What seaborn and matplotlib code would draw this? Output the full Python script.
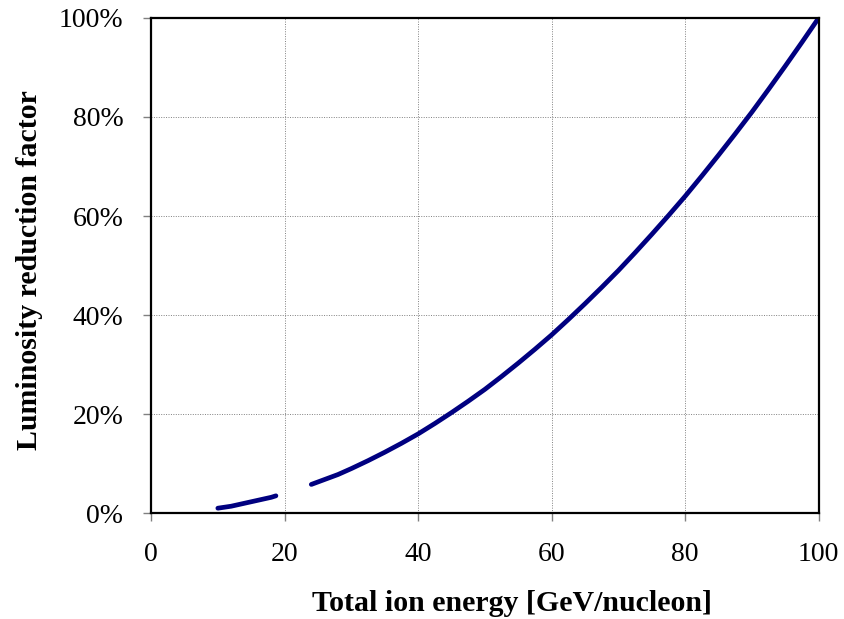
"""
Luminosity reduction factor vs total ion energy
"""

import pandas as pd
import matplotlib
matplotlib.use("Agg")
import matplotlib.pyplot as plt
from matplotlib.ticker import PercentFormatter
import seaborn as sns

# ── Data ──────────────────────────────────────────────────────────────────────

low_energy = [10, 11, 12, 13, 14, 15, 16, 17, 18, 18.7]
low_factor = [1.0, 1.2, 1.4, 1.7, 2.0, 2.3, 2.6, 2.9, 3.2, 3.5]

high_energy = [24, 26, 28, 30, 32.5, 35, 37.5, 40, 42.5, 45, 47.5, 50,
               52.5, 55, 57.5, 60, 62.5, 65, 67.5, 70, 72.5, 75, 77.5, 80,
               82.5, 85, 87.5, 90, 92.5, 95, 97.5, 100]
high_factor = [5.8, 6.8, 7.8, 9.0, 10.6, 12.3, 14.1, 16.0, 18.1, 20.3,
               22.6, 25.0, 27.6, 30.3, 33.1, 36.0, 39.1, 42.3, 45.6, 49.0,
               52.6, 56.3, 60.1, 64.0, 68.1, 72.3, 76.6, 81.0, 85.6, 90.3,
               95.1, 100.0]

x_ticks = [0, 20, 40, 60, 80, 100]
y_ticks = [0, 20, 40, 60, 80, 100]

# ── Plot ───────────────────────────────────────────────────────────────────────

sns.set_style("white")
plt.rcParams["font.family"] = ["Liberation Serif", "DejaVu Serif"]

df = pd.concat([
    pd.DataFrame({"energy": low_energy, "factor": low_factor, "seg": 0}),
    pd.DataFrame({"energy": high_energy, "factor": high_factor, "seg": 1}),
])

fig = plt.figure(figsize=(8.44, 6.19), dpi=100)
ax = fig.add_axes([0.179, 0.171, 0.791, 0.800])

sns.lineplot(data=df, x="energy", y="factor", units="seg", estimator=None,
             color="#000080", linewidth=3.4, ax=ax, solid_capstyle="round")

ax.set_xlim(0, 100)
ax.set_ylim(0, 100)
ax.set_xticks(x_ticks)
ax.set_yticks(y_ticks)
ax.yaxis.set_major_formatter(PercentFormatter(decimals=0))

ax.grid(True, color="#808080", linestyle=(0, (1, 1.5)), linewidth=0.7)
for s in ax.spines.values():
    s.set_color("black")
    s.set_linewidth(1.6)

ax.tick_params(axis="both", labelsize=20, labelcolor="black", direction="out",
               length=6, width=1, color="#808080", bottom=True, left=True)
ax.tick_params(axis="x", pad=15)
ax.tick_params(axis="y", pad=14)

ax.set_xlabel("Total ion energy [GeV/nucleon]", fontsize=21.5,
              fontweight="bold", color="black")
ax.set_ylabel("Luminosity reduction factor", fontsize=21.5,
              fontweight="bold", color="black")
ax.xaxis.set_label_coords(0.54, -0.156)
ax.yaxis.set_label_coords(-0.162, 0.49)

fig.savefig("out.png", dpi=100)
plt.close(fig)
